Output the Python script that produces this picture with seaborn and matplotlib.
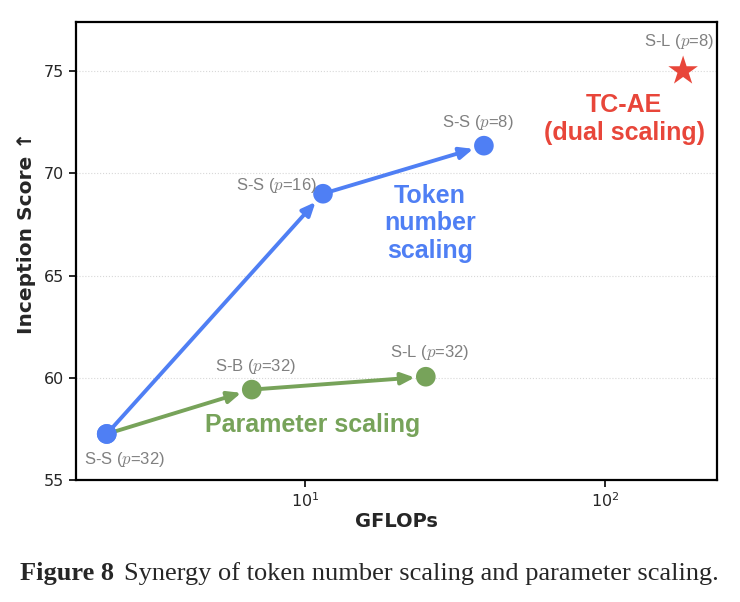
import matplotlib
matplotlib.use("Agg")
import matplotlib.pyplot as plt
import numpy as np
import pandas as pd
import seaborn as sns

# data
labels = ["S-S ($p$=32)", "S-S ($p$=16)", "S-S ($p$=8)", "S-B ($p$=32)", "S-L ($p$=32)", "S-L ($p$=8)"]
gflops = [2.19, 11.5, 39.5, 6.66, 25.3, 182.0]
inception = [57.25, 69.0, 71.35, 59.42, 60.05, 75.0]
group = ["token", "token", "token", "param", "param", "tcae"]

token_path = [0, 1, 2]
param_path = [0, 3, 4]

blue = "#4F7FF4"
green = "#77A35A"
red = "#E8463A"
gray = "#808080"

df = pd.DataFrame({"gflops": gflops, "score": inception, "group": group, "label": labels})

sns.set_style("white")
plt.rcParams["font.family"] = ["DejaVu Sans"]
plt.rcParams["mathtext.fontset"] = "cm"

fig = plt.figure(figsize=(7.4, 6.02), dpi=100)
ax = fig.add_axes([0.1027, 0.2027, 0.8662, 0.7608])

# arrows along the scaling paths
def draw_path(idx, color):
    for a, b in zip(idx[:-1], idx[1:]):
        ax.annotate("", xy=(gflops[b], inception[b]), xytext=(gflops[a], inception[a]),
                    arrowprops=dict(arrowstyle="-|>,head_length=0.8,head_width=0.35", color=color,
                                    lw=2.8, shrinkA=0, shrinkB=8), zorder=2)

draw_path(token_path, blue)
draw_path(param_path, green)

circles = df[df["group"] != "tcae"]
sns.scatterplot(data=circles, x="gflops", y="score", hue="group",
                palette={"token": blue, "param": green}, s=200, edgecolor="none",
                legend=False, ax=ax, zorder=3)
# first point starts both paths, keep it blue
sns.scatterplot(x=[gflops[0]], y=[inception[0]], color=blue, s=200, edgecolor="none", ax=ax, zorder=4)
sns.scatterplot(data=df[df["group"] == "tcae"], x="gflops", y="score", marker="*",
                color=red, s=500, edgecolor="none", legend=False, ax=ax, zorder=3)

ax.set_xscale("log")
ax.set_xlim(1.73, 236)
ax.set_ylim(55, 77.4)
ax.set_yticks([55, 60, 65, 70, 75])

# point labels
offsets = [(18, -26, "center"), (-6, 8, "right"), (-6, 23, "center"),
           (4, 23, "center"), (4, 24, "center"), (-4, 30, "center")]
for i, (dx, dy, ha) in enumerate(offsets):
    ax.annotate(labels[i], (gflops[i], inception[i]), xytext=(dx, dy), textcoords="offset pixels",
                ha=ha, va="center", color=gray, fontsize=12, family="Liberation Sans")

big = dict(fontsize=18, fontweight="bold", ha="center", va="center",
           family="Liberation Sans", linespacing=1.2)
ax.text(26.1, 67.55, "Token\nnumber\nscaling", color=blue, **big)
ax.text(10.6, 57.7, "Parameter scaling", color=green, **big)
ax.text(115.7, 72.65, "TC-AE\n(dual scaling)", color=red, **big)

ax.grid(axis="y", linestyle=":", color="#D8D8D8", linewidth=0.8)
ax.set_axisbelow(True)
for sp in ax.spines.values():
    sp.set_linewidth(1.6)
    sp.set_color("black")
ax.tick_params(axis="both", which="major", direction="out", length=5, width=1.4, labelsize=11.5,
               bottom=True, left=True)
ax.tick_params(axis="x", which="minor", bottom=False)
ax.set_xlabel("GFLOPs", fontsize=14, fontweight="bold", labelpad=1)
ax.set_ylabel("Inception Score ↑", fontsize=14.5, fontweight="bold")
ax.yaxis.set_label_coords(-0.063, 0.54)

# caption: bold lead-in followed by regular text
cap_size = 19
t1 = fig.text(0.027, 0.036, "Figure 8", fontsize=cap_size, fontweight="bold",
              family="Liberation Serif", va="baseline")
fig.canvas.draw()
bb = t1.get_window_extent()
x2 = bb.x1 / fig.bbox.width + 0.013
fig.text(x2, 0.036, "Synergy of token number scaling and parameter scaling.",
         fontsize=cap_size, family="Liberation Serif", va="baseline")

fig.savefig("out.png", dpi=100)
